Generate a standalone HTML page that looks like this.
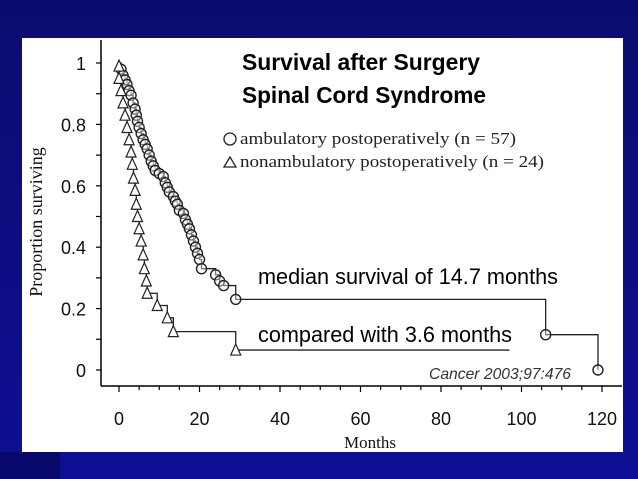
<!DOCTYPE html>
<html><head><meta charset="utf-8"><style>
body{margin:0;width:638px;height:479px;overflow:hidden;background:#0c0c86;}
svg{display:block}
</style></head><body>
<svg width="638" height="479" xmlns="http://www.w3.org/2000/svg">
<defs><linearGradient id="bg" x1="0" y1="0" x2="0" y2="1"><stop offset="0" stop-color="#0b0b6e"/><stop offset="1" stop-color="#0f0f96"/></linearGradient></defs>
<rect width="638" height="479" fill="url(#bg)"/>
<rect x="0" y="452" width="60" height="27" fill="#08086a"/>
<rect x="22" y="38" width="601" height="414" fill="#fff"/>
<g id="chart" font-family="Liberation Sans, sans-serif"></g>
</svg>
<script>
const yTicks=[0,0.2,0.4,0.6,0.8,1];
const yTickLabels=["0","0.2","0.4","0.6","0.8","1"];
const xTicks=[0,20,40,60,80,100,120];
const xTickLabels=["0","20","40","60","80","100","120"];
const ambTimes=[0.5,1,1.5,2,2.5,3,3.5,4,4.3,4.6,5,5.5,6,6.5,7,7.5,8,8.5,9,10,11,11.5,12,12.5,13.5,14,14.5,15,16,16.5,17,17.5,18,18.5,19,19.5,20,20.5,24,25,26,29,106,119];
const ambSurv=[0.98,0.96,0.945,0.93,0.91,0.895,0.87,0.85,0.83,0.81,0.79,0.77,0.75,0.735,0.72,0.70,0.68,0.665,0.65,0.64,0.63,0.61,0.595,0.58,0.565,0.55,0.54,0.52,0.51,0.49,0.475,0.46,0.44,0.42,0.40,0.38,0.36,0.33,0.31,0.29,0.275,0.23,0.115,0];
const nonTimes=[0,0,0.5,1,1.5,2,2.5,3,3.3,3.6,4,4.3,4.6,5,5.5,6,6.3,6.8,7,9.5,12,13.5,29];
const nonSurv=[0.99,0.95,0.91,0.87,0.83,0.79,0.75,0.71,0.67,0.625,0.585,0.54,0.50,0.46,0.42,0.375,0.33,0.29,0.25,0.21,0.17,0.125,0.065];
const nonEnd=97;

const NS="http://www.w3.org/2000/svg";
const g=document.getElementById('chart');
const X=t=>119+t*(602-119)/120;
const Y=v=>370-v*(370-63);
function el(tag,attrs,parent){const e=document.createElementNS(NS,tag);for(const k in attrs)e.setAttribute(k,attrs[k]);(parent||g).appendChild(e);return e;}
function txt(s,attrs){const e=el('text',attrs);e.textContent=s;return e;}

let a=el('line',{x1:101,y1:40,x2:101,y2:386,stroke:'#000','stroke-width':1.5});


a=el('line',{x1:101,y1:386,x2:622,y2:386,stroke:'#000','stroke-width':1.5});


for(let v=0;v<=1.0001;v+=0.1){const t=el('line',{x1:96,y1:Y(v),x2:101,y2:Y(v),stroke:'#000','stroke-width':1.2});

}
yTicks.forEach((v,i)=>{const t=txt(yTickLabels[i],{x:86,y:Y(v)+7,'text-anchor':'end','font-size':18,fill:'#111'});

});
for(let m=0;m<=120;m+=5){const t=el('line',{x1:X(m),y1:386,x2:X(m),y2:m%20==0?392:390,stroke:'#000','stroke-width':1.2});

}
xTicks.forEach((v,i)=>{const t=txt(xTickLabels[i],{x:X(v),y:425,'text-anchor':'middle','font-size':18,fill:'#111'});

});
let t=txt('Months',{x:370,y:448,'text-anchor':'middle','font-size':17,'font-family':'Liberation Serif, serif',fill:'#111'});


t=txt('Proportion surviving',{x:0,y:0,'text-anchor':'middle','font-size':18,'font-family':'Liberation Serif, serif',fill:'#111',transform:'translate(42,222) rotate(-90)'});



function stepPath(times,surv,start,end){let d=`M${X(0)},${Y(start)}`;
times.forEach((tm,i)=>{d+=` H${X(tm)} V${Y(surv[i])}`;});
if(end!=null)d+=` H${X(end)}`;return d;}
let p=el('path',{d:stepPath(ambTimes,ambSurv,1,null),fill:'none',stroke:'#222','stroke-width':1.3});


p=el('path',{d:stepPath(nonTimes,nonSurv,1,nonEnd),fill:'none',stroke:'#222','stroke-width':1.3});


ambTimes.forEach((tm,i)=>{const c=el('circle',{cx:X(tm),cy:Y(ambSurv[i]),r:5,fill:'#fff','fill-opacity':0.4,stroke:'#222','stroke-width':1.4});

});
nonTimes.forEach((tm,i)=>{const x=X(tm),y=Y(nonSurv[i]);const c=el('polygon',{points:`${x},${y-6} ${x-5},${y+5} ${x+5},${y+5}`,fill:'#fff',stroke:'#222','stroke-width':1.2});

});

const fit={lengthAdjust:'spacingAndGlyphs'};
t=txt('Survival after Surgery',Object.assign({x:242,y:70,'font-size':23,'font-weight':'bold',fill:'#000',textLength:238},fit));


t=txt('Spinal Cord Syndrome',Object.assign({x:242,y:103,'font-size':23,'font-weight':'bold',fill:'#000',textLength:244},fit));


let lc=el('circle',{cx:230,cy:139,r:6,fill:'none',stroke:'#222','stroke-width':1.3});


t=txt('ambulatory postoperatively (n = 57)',Object.assign({x:240,y:144,'font-size':17,'font-family':'Liberation Serif, serif',fill:'#222',textLength:276},fit));


lc=el('polygon',{points:'230,157 224,167 236,167',fill:'none',stroke:'#222','stroke-width':1.3});


t=txt('nonambulatory postoperatively (n = 24)',Object.assign({x:240,y:167,'font-size':17,'font-family':'Liberation Serif, serif',fill:'#222',textLength:304},fit));


t=txt('median survival of 14.7 months',Object.assign({x:258,y:284,'font-size':22,fill:'#000',textLength:300},fit));


t=txt('compared with 3.6 months',Object.assign({x:258,y:342,'font-size':22,fill:'#000',textLength:254},fit));


t=txt('Cancer 2003;97:476',Object.assign({x:429,y:379,'font-size':16,'font-style':'italic',fill:'#333',textLength:142},fit));


</script>
</body></html>
